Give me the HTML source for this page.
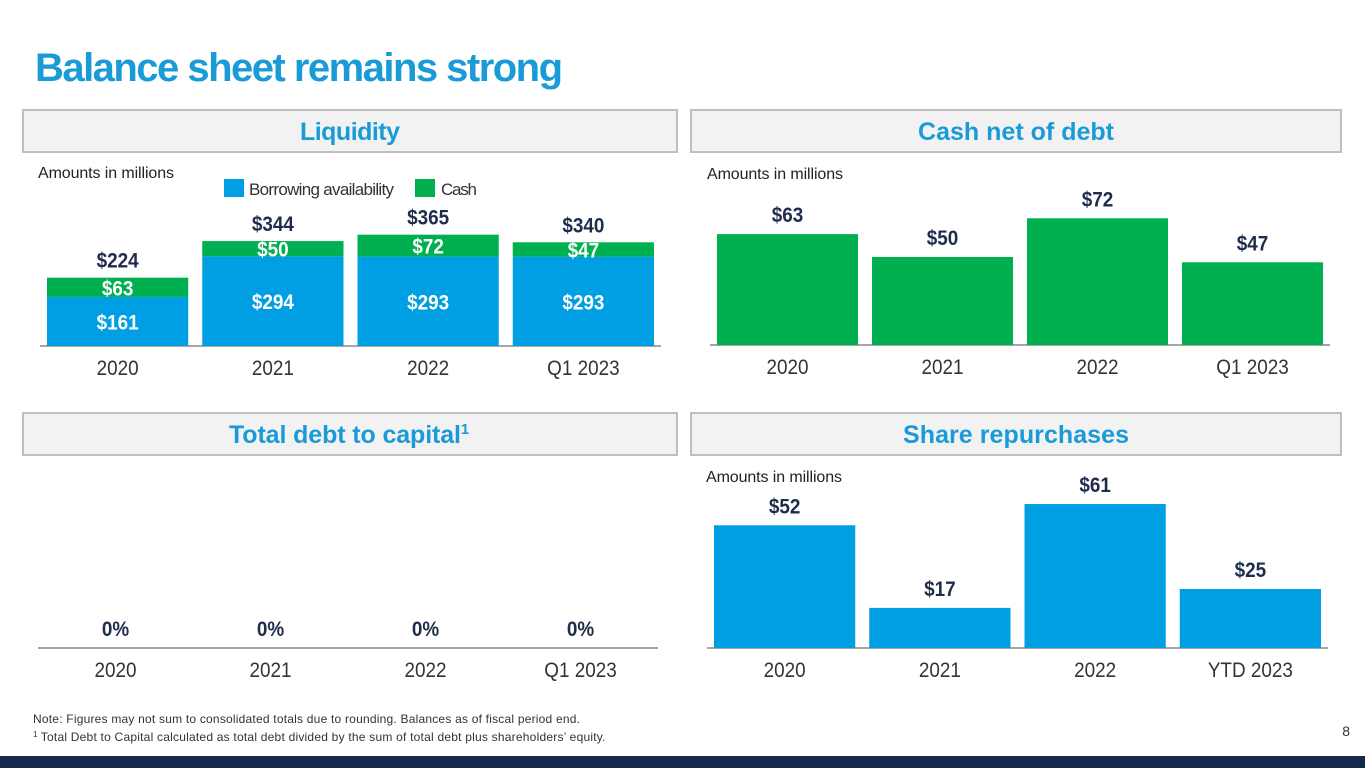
<!DOCTYPE html>
<html><head><meta charset="utf-8"><style>
body{margin:0;width:1365px;height:768px;overflow:hidden;background:#fff;font-family:"Liberation Sans",Arial,sans-serif}
svg{position:absolute;left:0;top:0}
</style></head><body>
<svg id="s" width="1365" height="768" font-family="'Liberation Sans',sans-serif">
<text x="35" y="81" font-size="40" font-weight="bold" fill="#1a9bd7" textLength="528">Balance sheet remains strong</text>
<rect x="23" y="110" width="654" height="42" fill="#f2f2f2" stroke="#bfbfbf" stroke-width="2"/>
<text x="350" y="140" text-anchor="middle" font-size="25" font-weight="bold" fill="#1a9bd7" textLength="100">Liquidity</text>
<rect x="691" y="110" width="650" height="42" fill="#f2f2f2" stroke="#bfbfbf" stroke-width="2"/>
<text x="1016" y="140" text-anchor="middle" font-size="25" font-weight="bold" fill="#1a9bd7" textLength="196">Cash net of debt</text>
<rect x="23" y="413" width="654" height="42" fill="#f2f2f2" stroke="#bfbfbf" stroke-width="2"/>
<text x="229" y="443" font-size="25" font-weight="bold" fill="#1a9bd7"><tspan textLength="232">Total debt to capital</tspan><tspan font-size="15" dy="-9">1</tspan></text>
<rect x="691" y="413" width="650" height="42" fill="#f2f2f2" stroke="#bfbfbf" stroke-width="2"/>
<text x="1016" y="443" text-anchor="middle" font-size="25" font-weight="bold" fill="#1a9bd7" textLength="226">Share repurchases</text>
<text x="38" y="178" font-size="16" fill="#222" textLength="136">Amounts in millions</text>
<text x="707" y="179" font-size="16" fill="#222" textLength="136">Amounts in millions</text>
<text x="706" y="482" font-size="16" fill="#222" textLength="136">Amounts in millions</text>
<rect x="224" y="179" width="20" height="18" fill="#009fe3"/>
<text x="249" y="195" font-size="17" fill="#333" textLength="145">Borrowing availability</text>
<rect x="415" y="179" width="20" height="18" fill="#00b050"/>
<text x="441" y="195" font-size="17" fill="#333" textLength="36">Cash</text>
<g id="g"></g>
<text x="33" y="723" font-size="12" fill="#333" textLength="547">Note: Figures may not sum to consolidated totals due to rounding. Balances as of fiscal period end.</text>
<text x="33" y="741" font-size="12" fill="#333"><tspan font-size="8" dy="-4">1</tspan><tspan dy="4" textLength="568"> Total Debt to Capital calculated as total debt divided by the sum of total debt plus shareholders’ equity.</tspan></text>
<text x="1350" y="736" text-anchor="end" font-size="14" fill="#333">8</text>
<rect x="0" y="756" width="1365" height="12" fill="#14284b"/>
</svg>
<script>
const liqCats=["2020","2021","2022","Q1 2023"];
const liqBorrow=[161,294,293,293];
const liqCash=[63,50,72,47];
const liqTotal=[224,344,365,340];
const netCats=["2020","2021","2022","Q1 2023"];
const netVals=[63,50,72,47];
const debtCats=["2020","2021","2022","Q1 2023"];
const debtVals=[0,0,0,0];
const repCats=["2020","2021","2022","YTD 2023"];
const repVals=[52,17,61,25];
const NS="http://www.w3.org/2000/svg",G=document.getElementById('g');
function mk(t,a,txt){const e=document.createElementNS(NS,t);for(const k in a)e.setAttribute(k,a[k]);if(txt!==undefined)e.textContent=txt;G.appendChild(e);return e;}
function axis(x0,x1,y,cats,n){mk('line',{x1:x0,x2:x1,y1:y,y2:y,stroke:'#a6a6a6','stroke-width':2});const bw=(x1-x0)/n;cats.forEach((c,i)=>{const t=mk('text',{x:x0+bw*(i+.5),y:y+29,'text-anchor':'middle','font-size':21,fill:'#333',transform:'translate('+(x0+bw*(i+.5))+',0) scale(0.9,1) translate('+(-(x0+bw*(i+.5)))+',0)'},c);

});}
function lbl(cx,y,txt,fill){return mk('text',{x:cx,y:y,'text-anchor':'middle','font-size':21,'font-weight':'bold',fill:fill,transform:'translate('+cx+',0) scale(0.9,1) translate('+(-cx)+',0)'},txt);}
(function(){const x0=40,x1=661,base=346,k=0.305,bw=(x1-x0)/4;
axis(x0,x1,base,liqCats,4);
liqCats.forEach((c,i)=>{const x=x0+bw*i+7,w=bw-14,hb=liqBorrow[i]*k,hc=liqCash[i]*k,ht=liqTotal[i]*k,cx=x+w/2;
const b=mk('rect',{x:x,y:base-hb,width:w,height:hb,fill:'#009fe3'});


const g=mk('rect',{x:x,y:base-hb-hc,width:w,height:hc,fill:'#00b050'});


const t1=lbl(cx,base-hb/2+8,'$'+liqBorrow[i],'#fff');


const t2=lbl(cx,base-hb-hc/2+8,'$'+liqCash[i],'#fff');


const t3=lbl(cx,base-ht-10,'$'+liqTotal[i],'#1f2d4d');

});})();
function simple(cats,vals,x0,x1,base,k,color,fmt){const bw=(x1-x0)/cats.length;axis(x0,x1,base,cats,cats.length);
cats.forEach((c,i)=>{const x=x0+bw*i+7,w=bw-14,h=vals[i]*k;
if(h>0){const r=mk('rect',{x:x,y:base-h,width:w,height:h,fill:color});

}
const t=lbl(x+w/2,base-h-12,fmt(vals[i]),'#1f2d4d');

});}
simple(netCats,netVals,710,1330,345,1.76,'#00b050',v=>'$'+v);
simple(debtCats,debtVals,38,658,648,1,'#009fe3',v=>v+'%');
simple(repCats,repVals,707,1328,648,2.36,'#009fe3',v=>'$'+v);
</script>
</body></html>
